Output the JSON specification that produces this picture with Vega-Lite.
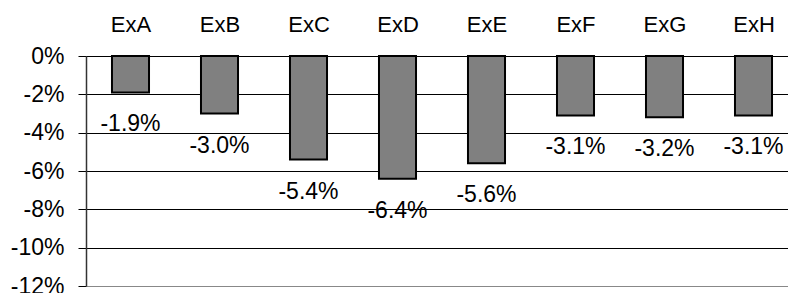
{
  "$schema": "https://vega.github.io/schema/vega-lite/v6.json",
  "width": 712,
  "height": 230,
  "autosize": "none",
  "padding": {"left": 86, "top": 56, "right": 0, "bottom": 7},
  "background": "white",
  "config": {"view": {"stroke": null}, "font": "Liberation Sans"},
  "data": {"values": [
    {"ex": "ExA", "v": -1.9, "label": "-1.9%"},
    {"ex": "ExB", "v": -3.0, "label": "-3.0%"},
    {"ex": "ExC", "v": -5.4, "label": "-5.4%"},
    {"ex": "ExD", "v": -6.4, "label": "-6.4%"},
    {"ex": "ExE", "v": -5.6, "label": "-5.6%"},
    {"ex": "ExF", "v": -3.1, "label": "-3.1%"},
    {"ex": "ExG", "v": -3.2, "label": "-3.2%"},
    {"ex": "ExH", "v": -3.1, "label": "-3.1%"}
  ]},
  "encoding": {
    "x": {
      "field": "ex", "type": "nominal", "sort": null,
      "scale": {"paddingInner": 0.584, "paddingOuter": 0.292},
      "axis": {
        "orient": "top", "title": null, "labelAngle": 0,
        "labelFontSize": 22, "labelColor": "black",
        "tickBand": "extent", "tickSize": -7, "tickColor": "black", "tickWidth": 1,
        "domainColor": "black", "domainWidth": 1,
        "labelPadding": 27, "grid": false
      }
    },
    "y": {
      "field": "v", "type": "quantitative",
      "scale": {"domain": [-12, 0], "nice": false},
      "axis": {
        "title": null, "values": [0, -2, -4, -6, -8, -10, -12],
        "labelExpr": "datum.value + '%'", "labelOverlap": false,
        "labelFontSize": 23, "labelColor": "black", "labelPadding": 14,
        "tickSize": 8, "tickColor": "black", "tickWidth": 1,
        "domainColor": "#333333", "domainWidth": 1.5,
        "grid": true, "gridWidth": 1,
        "gridColor": {"condition": {"test": "datum.value == -12", "value": "#888888"}, "value": "black"}
      }
    }
  },
  "layer": [
    {
      "mark": {"type": "bar", "fill": "#808080", "stroke": "black", "strokeWidth": 2}
    },
    {
      "mark": {"type": "text", "baseline": "middle", "align": "center", "dy": 32, "fontSize": 23, "color": "black"},
      "encoding": {
        "text": {"field": "label"}
      }
    }
  ]
}
